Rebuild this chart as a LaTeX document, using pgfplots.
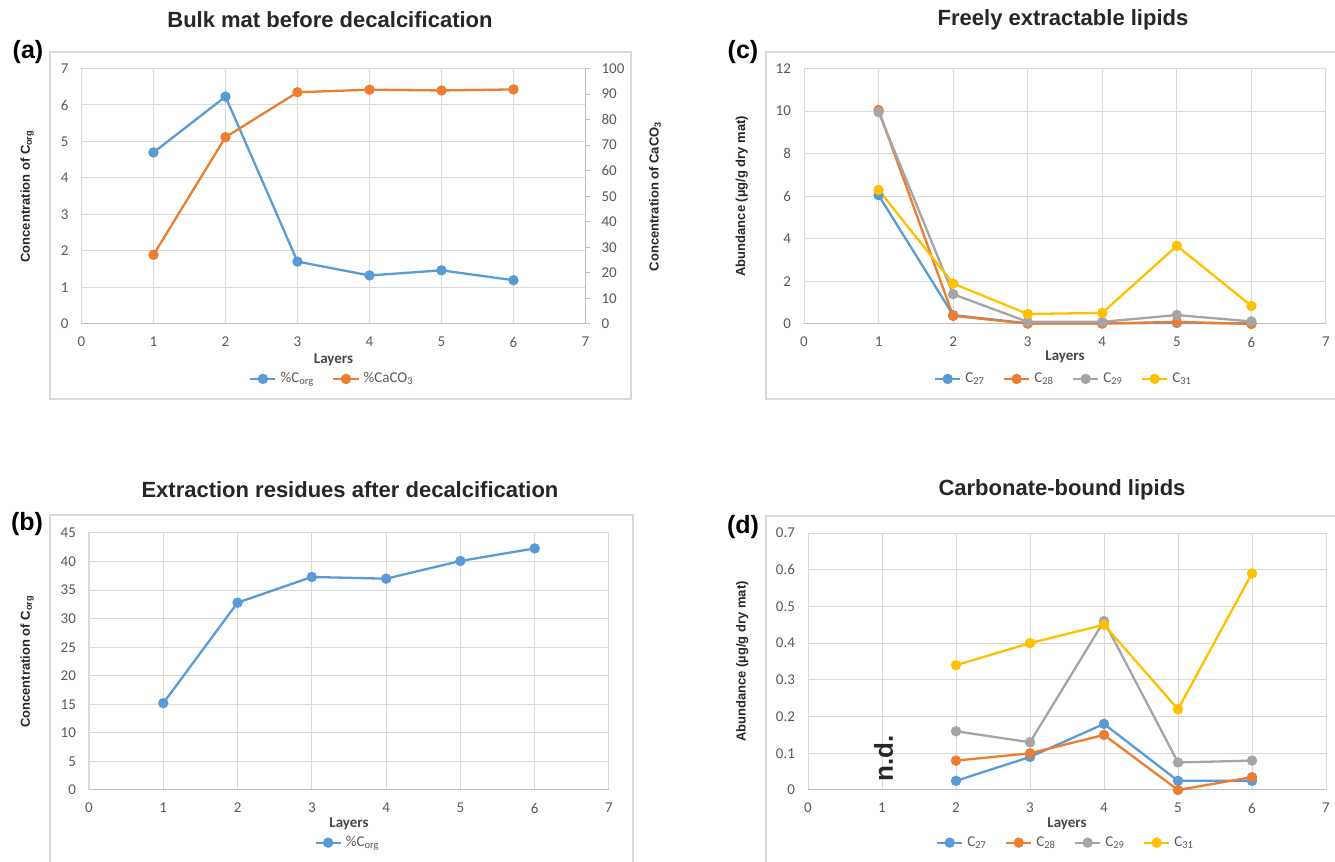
\documentclass[border=0pt]{standalone}
\usepackage{fontspec}
\setmainfont{Carlito}
\newfontfamily\arial{Liberation Sans}
\usepackage{pgfplots}
\pgfplotsset{compat=1.18}
\definecolor{cB}{HTML}{5B9BD5}
\definecolor{cO}{HTML}{ED7D31}
\definecolor{cG}{HTML}{A5A5A5}
\definecolor{cY}{HTML}{FFC000}
\definecolor{gridc}{HTML}{D9D9D9}
\definecolor{axc}{HTML}{BFBFBF}
\definecolor{tickc}{HTML}{595959}
\definecolor{ttl}{HTML}{262626}

\newcommand\tickfont{\fontsize{7.5}{8}\selectfont}
\newcommand\ytfont{\arial\bfseries\fontsize{6.5}{7}\selectfont}

\pgfplotsset{
  exc/.style={
    scale only axis, xmin=0, xmax=7, xtick={0,...,7},
    grid=major, grid style={gridc, line width=0.5pt},
    axis line style={gridc, line width=0.5pt}, major tick length=0pt,
    tick label style={font=\tickfont, text=tickc},
    xticklabel style={yshift=-3pt}, yticklabel style={xshift=-3pt},
    /pgf/number format/assume math mode=true,
    clip=false,
    xlabel={Layers}, xlabel style={font=\bfseries\fontsize{7.5}{8}\selectfont, text=ttl!85, anchor=center},
    ylabel style={font=\ytfont, text=ttl, anchor=center},
    legend style={draw=none, fill=none, font=\tickfont, text=tickc, anchor=center,
      /tikz/every even column/.append style={column sep=7pt}},
    legend columns=-1,
    legend image code/.code={\draw[mark repeat=2, mark phase=2] plot coordinates {(0cm,0cm) (0.22cm,0cm) (0.44cm,0cm)};},
  },
  s/.style={color=#1, line width=1.15pt, mark=*, mark size=2pt, mark options={fill=#1, draw=#1}},
}

\begin{document}
\begin{tikzpicture}
\path[use as bounding box] (0,0) rectangle (667.5pt,431pt);
% chart-area frames
\draw[gridc, line width=0.6pt] (25pt,231.5pt) rectangle (315.5pt,405pt);
\draw[gridc, line width=0.6pt] (383pt,231.5pt) rectangle (680pt,405pt);
\draw[gridc, line width=0.6pt] (25pt,-10pt) rectangle (316.5pt,173.5pt);
\draw[gridc, line width=0.6pt] (383pt,-10pt) rectangle (680pt,173pt);

% titles and panel letters
\node[font=\arial\bfseries\fontsize{11}{12}\selectfont, text=ttl] at (165pt,421pt) {Bulk mat before decalcification};
\node[font=\arial\bfseries\fontsize{11}{12}\selectfont, text=ttl] at (531.5pt,421pt) {Freely extractable lipids};
\node[font=\arial\bfseries\fontsize{11}{12}\selectfont, text=ttl] at (175pt,186pt) {Extraction residues after decalcification};
\node[font=\arial\bfseries\fontsize{11}{12}\selectfont, text=ttl] at (531pt,186pt) {Carbonate-bound lipids};
\node[font=\arial\bfseries\fontsize{12.5}{13}\selectfont] at (14pt,405pt) {(a)};
\node[font=\arial\bfseries\fontsize{12.5}{13}\selectfont] at (371.5pt,405pt) {(c)};
\node[font=\arial\bfseries\fontsize{12.5}{13}\selectfont] at (13.5pt,169pt) {(b)};
\node[font=\arial\bfseries\fontsize{12.5}{13}\selectfont] at (371.5pt,167.5pt) {(d)};

% (a) left axis
\begin{axis}[exc, at={(40.75pt,269pt)}, anchor=south west, width=252pt, height=127.75pt,
  ymin=0, ymax=7, ytick={0,...,7},
  xlabel style={at={(axis description cs:0.5,-0.14)}},
  ylabel={Concentration of C\textsubscript{org}},
  ylabel style={at={(axis description cs:-0.108,0.5)}}]
  \draw[axc, line width=0.5pt] (axis cs:0,0) -- (axis cs:7,0);
  \addplot[s=cB] coordinates {(1,4.70) (2,6.23) (3,1.71) (4,1.33) (5,1.47) (6,1.20)};
\end{axis}
% (a) right axis
\begin{axis}[scale only axis, at={(40.75pt,269pt)}, anchor=south west, width=252pt, height=127.75pt,
  xmin=0, xmax=7, ymin=0, ymax=100, ytick={0,10,...,100},
  axis x line=none, axis y line*=right,
  axis line style={axc, line width=0.5pt}, tick style={axc, line width=0.5pt},
  major tick length=2.5pt, tick align=outside,
  tick label style={font=\tickfont, text=tickc}, yticklabel style={xshift=2pt},
  /pgf/number format/assume math mode=true, clip=false,
  ylabel={Concentration of CaCO\textsubscript{3}},
  ylabel style={font=\ytfont, text=ttl, anchor=center, at={(axis description cs:1.138,0.5)}},
  legend style={draw=none, fill=none, font=\tickfont, text=tickc, anchor=center, at={(0.5,-0.215)},
    /tikz/every even column/.append style={column sep=7pt}},
  legend columns=-1,
  legend image code/.code={\draw[mark repeat=2, mark phase=2] plot coordinates {(0cm,0cm) (0.22cm,0cm) (0.44cm,0cm)};},
  s/.style={color=#1, line width=1.15pt, mark=*, mark size=2pt, mark options={fill=#1, draw=#1}}]
  \addlegendimage{s=cB}
  \addlegendentry{\%C\textsubscript{org}}
  \addplot[s=cO] coordinates {(1,27.1) (2,73.1) (3,90.7) (4,91.7) (5,91.4) (6,91.8)};
  \addlegendentry{\%CaCO\textsubscript{3}}
\end{axis}

% (c)
\begin{axis}[exc, at={(402pt,269pt)}, anchor=south west, width=261pt, height=127.75pt,
  ymin=0, ymax=12, ytick={0,2,...,12},
  xlabel style={at={(axis description cs:0.5,-0.128)}},
  ylabel={Abundance (µg/g dry mat)},
  ylabel style={at={(axis description cs:-0.119,0.5)}},
  legend style={at={(0.5,-0.215)}}]
  \draw[axc, line width=0.5pt] (axis cs:0,0) -- (axis cs:7,0);
  \addplot[s=cB] coordinates {(1,6.05) (2,0.42) (3,0.03) (4,0.03) (5,0.05) (6,0.03)};
  \addlegendentry{C\textsubscript{27}}
  \addplot[s=cO] coordinates {(1,10.05) (2,0.38) (3,0.02) (4,0.02) (5,0.10) (6,0.0)};
  \addlegendentry{C\textsubscript{28}}
  \addplot[s=cG] coordinates {(1,9.95) (2,1.40) (3,0.10) (4,0.10) (5,0.42) (6,0.12)};
  \addlegendentry{C\textsubscript{29}}
  \addplot[s=cY] coordinates {(1,6.30) (2,1.90) (3,0.47) (4,0.52) (5,3.67) (6,0.85)};
  \addlegendentry{C\textsubscript{31}}
\end{axis}

% (b)
\begin{axis}[exc, at={(44.5pt,36pt)}, anchor=south west, width=260pt, height=128.5pt,
  ymin=0, ymax=45, ytick={0,5,...,45},
  xlabel style={at={(axis description cs:0.5,-0.13)}},
  ylabel={Concentration of C\textsubscript{org}},
  ylabel style={at={(axis description cs:-0.119,0.5)}},
  legend style={at={(0.5,-0.205)}}]
  \draw[axc, line width=0.5pt] (axis cs:0,0) -- (axis cs:7,0);
  \addplot[s=cB] coordinates {(1,15.2) (2,32.8) (3,37.3) (4,37.0) (5,40.1) (6,42.3)};
  \addlegendentry{\%C\textsubscript{org}}
\end{axis}

% (d)
\begin{axis}[exc, at={(404pt,36pt)}, anchor=south west, width=259pt, height=128.5pt,
  ymin=0, ymax=0.7, ytick={0,0.1,...,0.7},
  xlabel style={at={(axis description cs:0.5,-0.13)}},
  ylabel={Abundance (µg/g dry mat)},
  ylabel style={at={(axis description cs:-0.127,0.5)}},
  legend style={at={(0.5,-0.205)}}]
  \draw[axc, line width=0.5pt] (axis cs:0,0) -- (axis cs:7,0);
  \addplot[s=cB] coordinates {(2,0.025) (3,0.09) (4,0.18) (5,0.025) (6,0.025)};
  \addlegendentry{C\textsubscript{27}}
  \addplot[s=cO] coordinates {(2,0.08) (3,0.10) (4,0.15) (5,0.0) (6,0.035)};
  \addlegendentry{C\textsubscript{28}}
  \addplot[s=cG] coordinates {(2,0.16) (3,0.13) (4,0.46) (5,0.075) (6,0.08)};
  \addlegendentry{C\textsubscript{29}}
  \addplot[s=cY] coordinates {(2,0.34) (3,0.40) (4,0.45) (5,0.22) (6,0.59)};
  \addlegendentry{C\textsubscript{31}}
  \node[rotate=90, font=\arial\bfseries\fontsize{13}{13}\selectfont, text=ttl] at (axis cs:1.02,0.086) {n.d.};
\end{axis}
\end{tikzpicture}
\end{document}
